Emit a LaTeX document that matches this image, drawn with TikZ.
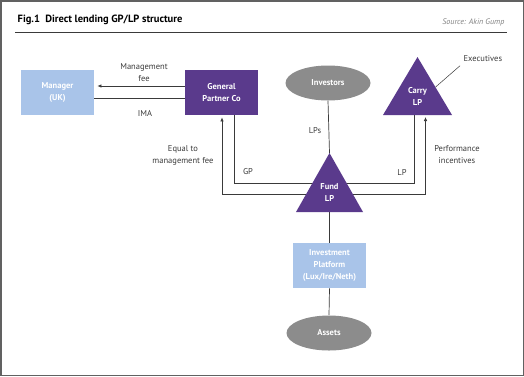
\documentclass[tikz,border=0pt]{standalone}
\usepackage{fontspec}
\setmainfont{PT Sans}
\usetikzlibrary{calc,arrows.meta,shapes.geometric}
\definecolor{fundpurple}{HTML}{5A3A8C}
\definecolor{platblue}{HTML}{A9C4E9}
\definecolor{ovalgray}{HTML}{8C8C8C}
\definecolor{linegray}{HTML}{3A3A3A}

\begin{document}
\begin{tikzpicture}[x=1pt,y=-1pt,line width=.7pt,draw=linegray,
  font=\fontsize{8.5}{12}\selectfont,>={Latex[length=4pt,width=3.5pt]},
  box/.style={rectangle,minimum width=73pt,minimum height=45pt,inner sep=0pt,text=white,
    font=\fontsize{8.5}{12}\selectfont\bfseries,align=center},
  oval/.style={ellipse,fill=ovalgray,minimum width=85pt,minimum height=35pt,inner sep=0pt,
    text=white,font=\fontsize{8.5}{12}\selectfont\bfseries},
  tri/.style={fill=fundpurple,draw=none},
  lbl/.style={align=center,text=linegray}]
\useasboundingbox (0,0) rectangle (524,376);
\draw[line width=1.5pt,draw=linegray!80] (.75,.75) rectangle (523.25,375.25);
% heading
\node[anchor=west,font=\fontsize{10.5}{12}\selectfont\bfseries] (title) at (14,20) {Fig.1\enspace Direct lending GP/LP structure};
\node[anchor=east,font=\fontsize{8}{9}\selectfont\itshape,text=gray] (source) at (508,22) {Source: Akin Gump};
\draw[line width=.5pt] (15,32) -- (507,32);
% boxes and ovals
\node[box,fill=platblue] (manager) at (57.5,92.5) {Manager\\(UK)};
\node[box,fill=fundpurple] (gpco) at (221.5,92.5) {General\\Partner Co};
\node[oval] (investors) at (328,83) {Investors};
\node[box,fill=platblue] (platform) at (329.5,265.5) {Investment\\Platform\\(Lux/Ire/Neth)};
\node[oval] (assets) at (329,333) {Assets};
% triangle corners
\coordinate (carrytop) at (417.5,57); \coordinate (carryL) at (383,115); \coordinate (carryR) at (452,115);
\coordinate (carrybase) at (417.5,115);
\coordinate (fundtop) at (329.5,153); \coordinate (fundL) at (296,212); \coordinate (fundR) at (363,212);
\coordinate (fundbase) at (329.5,212);
\coordinate (gpline) at (329.5,183); \coordinate (feeline) at (329.5,194);
% connectors
\draw[->,shorten >=3pt] ([yshift=6.5pt]gpco.west) -- ([yshift=6.5pt]manager.east)
  node[lbl,pos=.45,above=1pt] (mgmtfee) {Management\\fee};
\draw ([yshift=-5.5pt]manager.east) -- ([yshift=-5.5pt]gpco.west)
  node[lbl,pos=.56,below=9pt] (ima) {IMA};
\draw[->,shorten >=2pt] (feeline) -| ([xshift=.5pt]gpco.south);
\draw (gpline) -| ([xshift=12.5pt]gpco.south);
\draw[->,shorten >=2pt] (feeline) -| ([xshift=8pt]carrybase);
\draw (gpline) -| ([xshift=-3pt]carrybase);
\draw (investors.south) -- (fundtop) node[lbl,pos=.57,left=4pt] (lps) {LPs};
\draw (fundbase) -- (platform.north);
\draw (platform.south) -- (assets.north);
% triangles
\fill[tri] (carrytop) -- (carryR) -- (carryL) -- cycle;
\fill[tri] (fundtop) -- (fundR) -- (fundL) -- cycle;
\node[box,minimum size=0pt] (carry) at (417.5,96) {Carry\\LP};
\node[box,minimum size=0pt] (fund) at (329.5,193) {Fund\\LP};
% labels
\node[lbl,anchor=west] (exec) at (460,59) {Executives};
\draw[line width=.5pt] ($(carrytop)!.52!(carryR)$) -- (exec.south west);
\node[lbl] (gplbl) at (248,172) {GP};
\node[lbl] (lplbl) at (402,172) {LP};
\node[lbl] (equal) at (183,155) {Equal to\\management fee};
\node[lbl] (perf) at (457,155) {Performance\\incentives};
\end{tikzpicture}
\end{document}
